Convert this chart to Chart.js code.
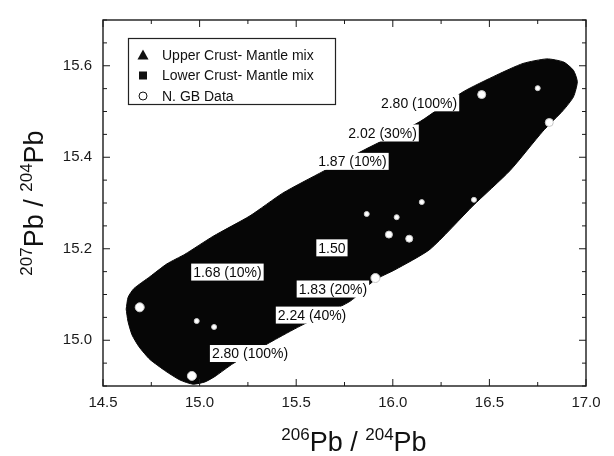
<!DOCTYPE html>
<html>
<head>
<meta charset="utf-8">
<script src="https://cdn.jsdelivr.net/npm/chart.js@4.4.1/dist/chart.umd.min.js"></script>
<style>
  body { margin: 0; background: #fff; }
</style>
</head>
<body>
<canvas id="pbChart" width="614" height="456"></canvas>
<script>
// N. GB data points (206Pb/204Pb, 207Pb/204Pb)
const gbX = [14.69, 14.96, 14.985, 15.075, 15.91, 15.865, 16.02, 16.15, 15.98, 16.085, 16.42, 16.46, 16.75, 16.81];
const gbY = [15.072, 14.922, 15.042, 15.029, 15.136, 15.276, 15.269, 15.302, 15.231, 15.222, 15.307, 15.537, 15.551, 15.476];

// outline of the mixing envelope (black field)
const envelopeX = [14.62, 14.63, 14.66, 14.743, 14.831, 14.924, 15.069, 15.261, 15.432, 15.639, 15.861, 16.141, 16.364,
                   16.539, 16.674, 16.798, 16.885, 16.935, 16.955, 16.935, 16.881, 16.777, 16.607, 16.415, 16.193,
                   16.011, 15.908, 15.778, 15.52, 15.38, 15.173, 15.08, 15.028, 14.966, 14.899, 14.826, 14.743,
                   14.686, 14.65, 14.629, 14.62];
const envelopeY = [15.068, 15.094, 15.113, 15.139, 15.167, 15.188, 15.227, 15.272, 15.322, 15.369, 15.418, 15.478, 15.543,
                   15.58, 15.605, 15.615, 15.608, 15.59, 15.565, 15.532, 15.502, 15.457, 15.371, 15.294, 15.199,
                   15.154, 15.132, 15.085, 15.031, 14.999, 14.949, 14.921, 14.909, 14.904, 14.913, 14.932, 14.958,
                   14.986, 15.012, 15.042, 15.068];

// model labels placed on the envelope
const mixLabels = ['2.80 (100%)', '2.02 (30%)', '1.87 (10%)', '1.50', '1.68 (10%)', '1.83 (20%)', '2.24 (40%)', '2.80 (100%)'];
const mixLabelX = [16.136, 15.947, 15.791, 15.685, 15.144, 15.69, 15.582, 15.261];
const mixLabelY = [15.519, 15.453, 15.391, 15.202, 15.149, 15.112, 15.055, 14.971];

const xTickLabels = ['14.5', '15.0', '15.5', '16.0', '16.5', '17.0'];
const yTickLabels = ['15.0', '15.2', '15.4', '15.6'];

const FONT = "'Liberation Sans', Arial, sans-serif";

function pickLabel(labels, v) {
    const s = Number(v).toFixed(2);
    const hit = labels.find(l => Number(l).toFixed(2) === s);
    return hit || '';
}

// frame + inward ticks on all four sides
const frameTicks = {
    id: 'frameTicks',
    afterDraw(chart) {
        const { ctx, chartArea: a, scales: { x, y } } = chart;
        ctx.save();
        ctx.strokeStyle = '#1a1a1a';
        ctx.lineWidth = 1.4;
        ctx.strokeRect(a.left, a.top, a.right - a.left, a.bottom - a.top);
        ctx.lineWidth = 1;
        ctx.beginPath();
        x.ticks.forEach(t => {
            const px = x.getPixelForValue(t.value);
            const len = t.label ? 7 : 4;
            ctx.moveTo(px, a.bottom); ctx.lineTo(px, a.bottom - len);
            ctx.moveTo(px, a.top); ctx.lineTo(px, a.top + len);
        });
        y.ticks.forEach(t => {
            const py = y.getPixelForValue(t.value);
            const len = t.label ? 7 : 4;
            ctx.moveTo(a.left, py); ctx.lineTo(a.left + len, py);
            ctx.moveTo(a.right, py); ctx.lineTo(a.right - len, py);
        });
        ctx.stroke();
        ctx.restore();
    }
};

// white boxed labels on top of the envelope
const mixLabelPlugin = {
    id: 'mixLabels',
    afterDatasetsDraw(chart) {
        const { ctx, scales: { x, y } } = chart;
        ctx.save();
        ctx.font = '14px ' + FONT;
        ctx.textAlign = 'center';
        ctx.textBaseline = 'middle';
        mixLabels.forEach((txt, i) => {
            const px = x.getPixelForValue(mixLabelX[i]);
            const py = y.getPixelForValue(mixLabelY[i]);
            const w = ctx.measureText(txt).width + 4;
            ctx.fillStyle = '#fff';
            ctx.fillRect(px - w / 2, py - 8.5, w, 17);
            ctx.fillStyle = '#0a0a0a';
            ctx.fillText(txt, px, py + 1);
        });
        ctx.restore();
    }
};

// legend box inside the plot
const boxLegend = {
    id: 'boxLegend',
    afterDraw(chart) {
        const { ctx } = chart;
        const items = chart.data.datasets.filter(d => d.inLegend);
        ctx.save();
        ctx.strokeStyle = '#222';
        ctx.lineWidth = 1.2;
        ctx.strokeRect(128.5, 38.5, 207, 66);
        ctx.font = '14px ' + FONT;
        ctx.textBaseline = 'middle';
        ctx.textAlign = 'left';
        items.forEach((d, i) => {
            const cy = 55 + i * 20.5;
            const cx = 143;
            ctx.fillStyle = '#111';
            ctx.strokeStyle = '#111';
            ctx.beginPath();
            if (d.pointStyle === 'triangle') {
                ctx.moveTo(cx, cy - 5.5); ctx.lineTo(cx + 5.5, cy + 4.5); ctx.lineTo(cx - 5.5, cy + 4.5);
                ctx.closePath(); ctx.fill();
            } else if (d.pointStyle === 'rect') {
                ctx.fillRect(cx - 4, cy - 4, 8, 8);
            } else {
                ctx.lineWidth = 1;
                ctx.arc(cx, cy, 4, 0, Math.PI * 2);
                ctx.stroke();
            }
            ctx.fillText(d.label, 162, cy + 1);
        });
        ctx.restore();
    }
};

// axis titles with superscript mass numbers
function drawIsoTitle(ctx, parts, big, small) {
    let w = 0;
    parts.forEach(p => { ctx.font = (p.sup ? small : big) + 'px ' + FONT; w += ctx.measureText(p.t).width; });
    let cx = -w / 2;
    parts.forEach(p => {
        ctx.font = (p.sup ? small : big) + 'px ' + FONT;
        ctx.fillText(p.t, cx, p.sup ? -big * 0.42 : 0);
        cx += ctx.measureText(p.t).width;
    });
}

const isoTitles = {
    id: 'isoTitles',
    afterDraw(chart) {
        const { ctx } = chart;
        ctx.save();
        ctx.fillStyle = '#111';
        ctx.textBaseline = 'alphabetic';
        ctx.textAlign = 'left';
        ctx.translate(354, 451);
        drawIsoTitle(ctx, [{ t: '206', sup: true }, { t: 'Pb / ', sup: false }, { t: '204', sup: true }, { t: 'Pb', sup: false }], 27, 17);
        ctx.restore();
        ctx.save();
        ctx.fillStyle = '#111';
        ctx.textBaseline = 'alphabetic';
        ctx.textAlign = 'left';
        ctx.translate(43, 203);
        ctx.rotate(-Math.PI / 2);
        drawIsoTitle(ctx, [{ t: '207', sup: true }, { t: 'Pb / ', sup: false }, { t: '204', sup: true }, { t: 'Pb', sup: false }], 27, 17);
        ctx.restore();
    }
};

const ctx = document.getElementById('pbChart').getContext('2d');

const pbChart = new Chart(ctx, {
    type: 'scatter',
    data: {
        datasets: [
            {
                label: 'Upper Crust- Mantle mix', inLegend: true, pointStyle: 'triangle',
                data: [], backgroundColor: '#111', order: 0
            },
            {
                label: 'Lower Crust- Mantle mix', inLegend: true, pointStyle: 'rect',
                data: [], backgroundColor: '#111', order: 0
            },
            {
                label: 'N. GB Data', inLegend: true, pointStyle: 'circle',
                data: gbX.map((v, i) => ({ x: v, y: gbY[i] })),
                pointRadius: [4.5, 4.5, 2.5, 2.5, 4.5, 2.5, 2.5, 2.5, 3.5, 3.5, 2.5, 4, 2.5, 4],
                backgroundColor: '#fff', borderColor: '#c8c8c8', borderWidth: 1, order: 1
            },
            {
                label: 'envelope',
                data: envelopeX.map((v, i) => ({ x: v, y: envelopeY[i] })),
                showLine: true, fill: 'shape', tension: 0.2,
                backgroundColor: '#060606', borderColor: '#060606', borderWidth: 1,
                pointRadius: 0, order: 5
            }
        ]
    },
    options: {
        responsive: false,
        animation: false,
        layout: { padding: { top: 14, right: 28, left: 0, bottom: 0 } },
        plugins: {
            legend: { display: false },
            tooltip: { enabled: false }
        },
        scales: {
            x: {
                type: 'linear', min: 14.5, max: 17.0,
                afterFit: s => { s.height = 70; },
                grid: { display: false, drawTicks: false },
                border: { display: false },
                ticks: {
                    stepSize: 0.25, padding: 8, color: '#1a1a1a', maxRotation: 0, autoSkip: false,
                    font: { family: FONT, size: 15 },
                    callback: v => pickLabel(xTickLabels, v)
                }
            },
            y: {
                type: 'linear', min: 14.9, max: 15.7,
                afterFit: s => { s.width = 103; },
                grid: { display: false, drawTicks: false },
                border: { display: false },
                ticks: {
                    stepSize: 0.05, padding: 11, color: '#1a1a1a', autoSkip: false,
                    font: { family: FONT, size: 15 },
                    callback: v => pickLabel(yTickLabels, v)
                }
            }
        }
    },
    plugins: [frameTicks, mixLabelPlugin, boxLegend, isoTitles]
});
</script>
</body>
</html>
